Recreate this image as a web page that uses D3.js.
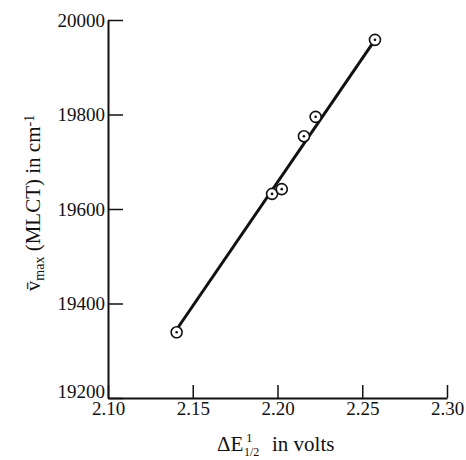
<!DOCTYPE html>
<html><head><meta charset="utf-8">
<script src="https://cdn.jsdelivr.net/npm/d3@7"></script>
<style>
body{margin:0;background:#fff;}
text{font-family:"Liberation Serif","Times New Roman",serif;fill:#111;}
</style></head>
<body><svg id="c" width="466" height="460"></svg>
<script>
const xValues = [2.1405, 2.1968, 2.2025, 2.2156, 2.2225, 2.2575];
const yValues = [19339, 19632, 19642, 19754, 19795, 19958];
const fitX = [2.1405, 2.2575];
const fitY = [19345, 19958];
const xTicks = [2.10, 2.15, 2.20, 2.25, 2.30];
const yTicks = [19200, 19400, 19600, 19800, 20000];

const svg = d3.select("#c");
const x = d3.scaleLinear().domain([2.10, 2.30]).range([108, 447]);
const y = d3.scaleLinear().domain([19200, 20000]).range([398, 20]);

const gx = svg.append("g").attr("transform","translate(0,398)")
  .call(d3.axisBottom(x).tickValues(xTicks).tickFormat(d3.format(".2f")).tickSizeInner(-13).tickSizeOuter(0).tickPadding(3));
const gy = svg.append("g").attr("transform","translate(108,0)")
  .call(d3.axisLeft(y).tickValues(yTicks).tickFormat(d3.format("d")).tickSizeInner(-15).tickSizeOuter(0).tickPadding(3));
[gx, gy].forEach(g => {
  g.selectAll("path.domain").attr("stroke","#111").attr("stroke-width",2);
  g.selectAll(".tick line").attr("stroke","#111").attr("stroke-width",1.5);
  g.selectAll(".tick text").style("font-family","'Liberation Serif',serif").style("font-size","19px").attr("fill","#111");
});
gy.selectAll(".tick").filter(d => d === 19200).select("text").attr("dy","-0.05em");

svg.append("line")
  .attr("x1", x(fitX[0])).attr("y1", y(fitY[0]))
  .attr("x2", x(fitX[1])).attr("y2", y(fitY[1]))
  .attr("stroke","#111").attr("stroke-width",3);

const pts = d3.range(xValues.length).map(i => [xValues[i], yValues[i]]);
const pg = svg.append("g");
pg.selectAll("circle.o").data(pts).join("circle").attr("class","o")
  .attr("cx", d => x(d[0])).attr("cy", d => y(d[1])).attr("r", 5.5)
  .attr("fill","#fff").attr("stroke","#111").attr("stroke-width",1.6);
pg.selectAll("circle.d").data(pts).join("circle").attr("class","d")
  .attr("cx", d => x(d[0])).attr("cy", d => y(d[1])).attr("r", 1.3)
  .attr("fill","#111");

// x label
svg.append("text").attr("x", 217).attr("y", 451).style("font-size","21px").text("ΔE");
svg.append("text").attr("x", 246).attr("y", 442).style("font-size","13px").text("1");
svg.append("text").attr("x", 244).attr("y", 456).style("font-size","12px").text("1/2");
svg.append("text").attr("x", 272).attr("y", 451).style("font-size","21px").text("in volts");

// y label
const yl = svg.append("text").attr("transform","translate(40,203) rotate(-90)")
  .attr("text-anchor","middle").style("font-size","21px");
yl.append("tspan").text("v\u0304");
yl.append("tspan").attr("baseline-shift","-25%").style("font-size","14px").text("max");
yl.append("tspan").text(" (MLCT) in cm");
yl.append("tspan").attr("baseline-shift","45%").style("font-size","14px").text("-1");
</script></body></html>
